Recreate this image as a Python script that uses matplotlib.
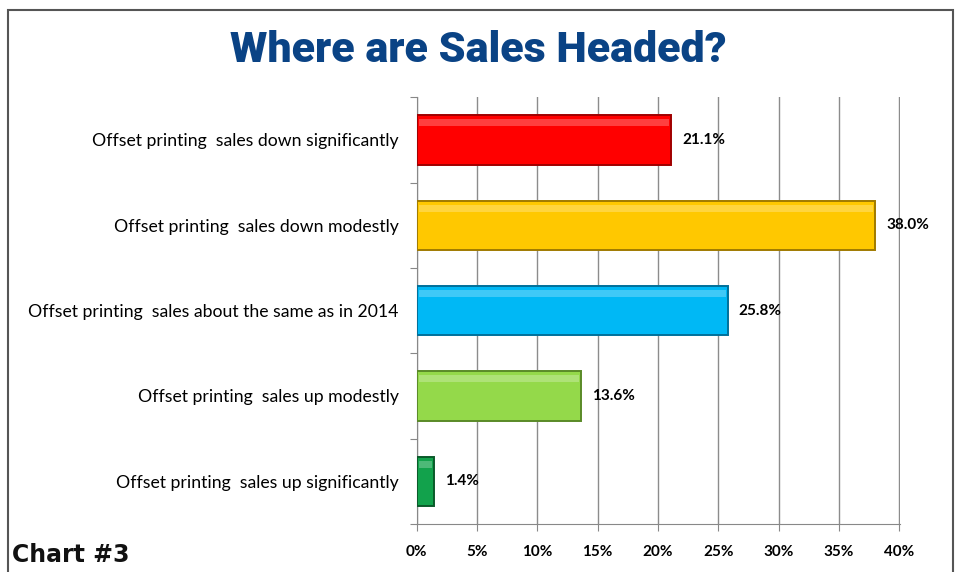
import matplotlib
matplotlib.use("Agg")
import matplotlib.pyplot as plt
from matplotlib.patches import Rectangle
from matplotlib.ticker import FuncFormatter

CATEGORIES = [
    "Offset printing  sales down significantly",
    "Offset printing  sales down modestly",
    "Offset printing  sales about the same as in 2014",
    "Offset printing  sales up modestly",
    "Offset printing  sales up significantly",
]
VALUES = [21.1, 38.0, 25.8, 13.6, 1.4]
FACE = ["#ff0000", "#ffc800", "#00b8f5", "#94d94a", "#12a24c"]
EDGE = ["#a00000", "#a07a00", "#00709a", "#5a8a28", "#0a5a2a"]

FONT = ["Lato", "DejaVu Sans"]
HEAVY = ["Roboto", "DejaVu Sans"]

fig = plt.figure(figsize=(9.56, 5.72), dpi=100)
ax = fig.add_axes([0.436, 0.084, 0.505, 0.746])

n = len(CATEGORIES)
ypos = list(range(n - 1, -1, -1))
ax.barh(ypos, VALUES, height=0.58, color=FACE, edgecolor=EDGE, linewidth=1.4, zorder=3)
# light inner strip for a bit of bevel
for y, v in zip(ypos, VALUES):
    ax.add_patch(Rectangle((0.15, y + 0.16), max(v - 0.3, 0), 0.08, color="white",
                           alpha=0.25, lw=0, zorder=4))
    ax.text(v + 0.9, y, f"{v:.1f}%", va="center", ha="left", fontsize=11,
            fontweight="bold", family=FONT, zorder=5)

ax.set_xlim(0, 40.03)
ax.set_ylim(-0.5, n - 0.5)
ax.set_xticks(range(0, 41, 5))
ax.xaxis.set_major_formatter(FuncFormatter(lambda v, _: f"{v:.0f}%"))
ax.set_yticks([y - 0.5 for y in range(n + 1)])
ax.set_yticklabels([])
ax.set_yticks(ypos, minor=True)
ax.set_yticklabels(CATEGORIES, minor=True, fontsize=12.7, family=FONT)
ax.tick_params(axis="y", which="minor", length=0, pad=13)
ax.tick_params(axis="y", which="major", length=5, color="#888888", direction="out")
ax.tick_params(axis="x", length=5, color="#888888", pad=10)
for lab in ax.get_xticklabels():
    lab.set_fontweight("bold")
    lab.set_fontsize(11)
    lab.set_family(FONT)
ax.grid(axis="x", color="#8c8c8c", lw=1.0, zorder=0)
for s in ("top", "right"):
    ax.spines[s].set_visible(False)
for s in ("left", "bottom"):
    ax.spines[s].set_color("#888888")

fig.text(0.5, 0.912, "Where are Sales Headed?", ha="center", va="center",
         fontsize=31, fontweight="black", color="#0a4385", family=HEAVY)
fig.text(0.013, 0.03, "Chart #3", ha="left", va="center", fontsize=17,
         fontweight="bold", color="#111111", family="DejaVu Sans")

fig.patches.append(Rectangle((0.008, -0.05), 0.989, 1.033, transform=fig.transFigure,
                             fill=False, edgecolor="#555555", lw=1.5))

fig.savefig("out.png", dpi=100)
